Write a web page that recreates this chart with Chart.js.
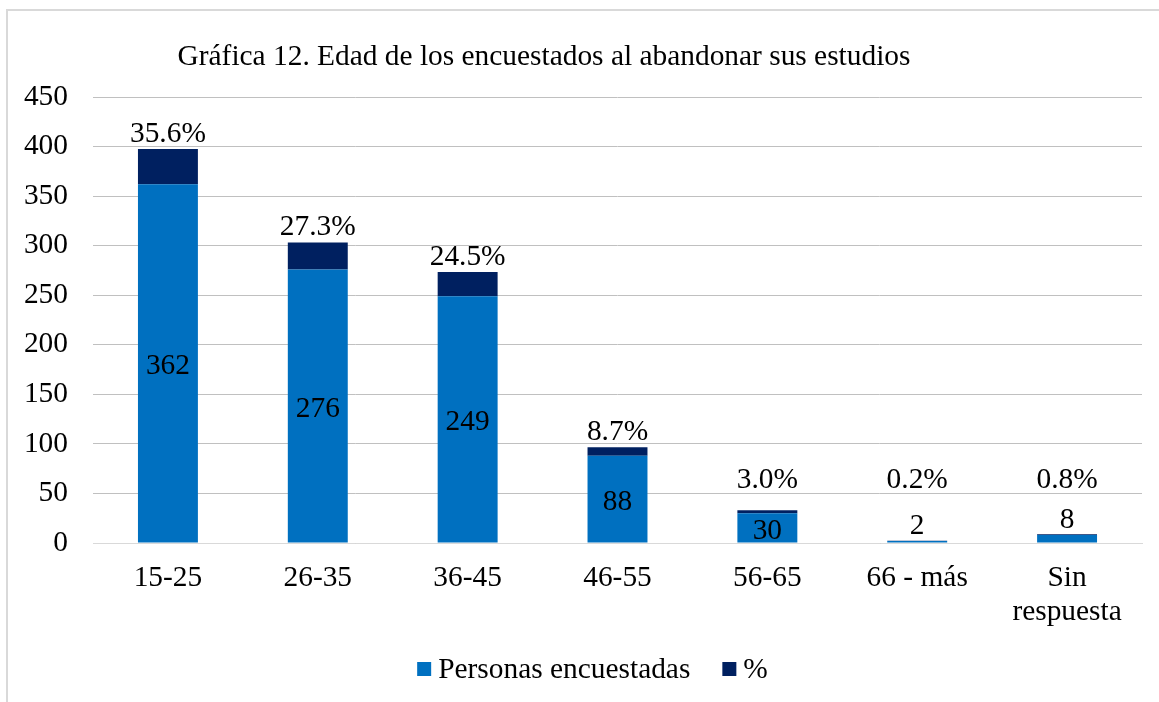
<!DOCTYPE html>
<html><head><meta charset="utf-8">
<script src="https://cdn.jsdelivr.net/npm/chart.js@4"></script>
<style>
html,body{margin:0;padding:0;background:#fff;}
#wrap{position:relative;width:1159px;height:702px;overflow:hidden;}
#frame{position:absolute;left:6px;top:9px;right:-10px;bottom:-10px;border-left:2px solid #d9d9d9;border-top:2px solid #d9d9d9;}
canvas{position:absolute;left:0;top:0;}
</style></head><body>
<div id="wrap"><div id="frame"></div><canvas id="c" width="1159" height="702"></canvas></div>
<script>
const chartTitle = 'Gráfica 12. Edad de los encuestados al abandonar sus estudios';
const categories = ['15-25', '26-35', '36-45', '46-55', '56-65', '66 - más', ['Sin', 'respuesta']];
const seriesNames = ['Personas encuestadas', '%'];
const personas = [362, 276, 249, 88, 30, 2, 8];
const porcentaje = [35.6, 27.3, 24.5, 8.7, 3.0, 0.2, 0.8];
const yMin = 0, yMax = 450, yStep = 50;

const FONT = "'Liberation Serif', 'Times New Roman', serif";
const FS = 29.4;

const titlePlugin = {
  id: 'customTitle',
  afterDraw(chart) {
    const ctx = chart.ctx;
    ctx.save();
    ctx.font = FS + 'px ' + FONT;
    ctx.fillStyle = '#000';
    ctx.textAlign = 'center';
    ctx.textBaseline = 'middle';
    ctx.fillText(chartTitle, 544, 57);
    ctx.restore();
  }
};

const legendPlugin = {
  id: 'customLegend',
  afterDraw(chart) {
    const ctx = chart.ctx;
    ctx.save();
    ctx.font = FS + 'px ' + FONT;
    ctx.textBaseline = 'middle';
    ctx.textAlign = 'left';
    const box = 14, gapText = 7, gapItem = 32, cy = 669;
    const ds = chart.data.datasets;
    const widths = ds.map(d => box + gapText + ctx.measureText(d.label).width);
    const total = widths.reduce((a, b) => a + b, 0) + gapItem * (ds.length - 1);
    let x = 592.5 - total / 2;
    ds.forEach((d, i) => {
      ctx.fillStyle = d.backgroundColor;
      ctx.fillRect(x, cy - box / 2, box, box);
      ctx.fillStyle = '#000';
      ctx.fillText(d.label, x + box + gapText, cy + 1);
      x += widths[i] + gapItem;
    });
    ctx.restore();
  }
};

const labelPlugin = {
  id: 'barLabels',
  afterDatasetsDraw(chart) {
    const ctx = chart.ctx;
    const m0 = chart.getDatasetMeta(0), m1 = chart.getDatasetMeta(1);
    const y0 = chart.scales.y.getPixelForValue(0);
    ctx.save();
    ctx.font = FS + 'px ' + FONT;
    ctx.fillStyle = '#000';
    ctx.textAlign = 'center';
    ctx.textBaseline = 'middle';
    m0.data.forEach((bar, i) => {
      const h = bar.base - bar.y;
      const ly = h < 22 ? bar.y - 15 : (bar.y + bar.base) / 2 + 3;
      ctx.fillText(String(personas[i]), bar.x, ly);
      const top = m1.data[i].y;
      const py = Math.min(top - 15, y0 - 63);
      ctx.fillText(porcentaje[i].toFixed(1) + '%', bar.x, py);
    });
    ctx.restore();
  }
};

new Chart(document.getElementById('c'), {
  type: 'bar',
  data: {
    labels: categories,
    datasets: [
      { label: seriesNames[0], data: personas, backgroundColor: '#0070C0', barPercentage: 0.8, categoryPercentage: 0.5 },
      { label: seriesNames[1], data: porcentaje, backgroundColor: '#002060', barPercentage: 0.8, categoryPercentage: 0.5 }
    ]
  },
  options: {
    responsive: false,
    animation: false,
    devicePixelRatio: 1,
    layout: { padding: { left: 0, right: 17, top: 97, bottom: 0 } },
    plugins: {
      title: { display: false },
      tooltip: { enabled: false },
      legend: { display: false }
    },
    scales: {
      x: {
        stacked: true,
        afterFit(scale) { scale.height = 159; },
        grid: { display: false, drawTicks: false },
        border: { display: true, color: '#d9d9d9', width: 1 },
        ticks: { font: { family: FONT, size: FS, lineHeight: 1.13 }, color: '#000', padding: 19, maxRotation: 0, autoSkip: false }
      },
      y: {
        stacked: true,
        min: yMin, max: yMax,
        afterFit(scale) { scale.width = 93; },
        grid: { color: '#c0c0c0', drawTicks: false, lineWidth: 1 },
        border: { display: false },
        ticks: { stepSize: yStep, font: { family: FONT, size: FS }, color: '#000', padding: 25 }
      }
    }
  },
  plugins: [titlePlugin, labelPlugin, legendPlugin]
});
</script>
</body></html>
